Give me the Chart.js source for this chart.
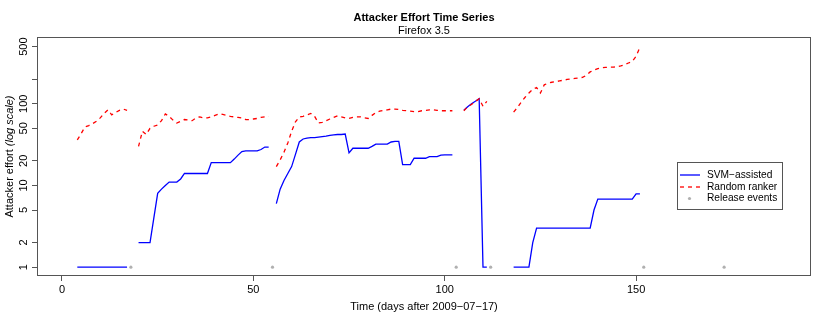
<!DOCTYPE html>
<html><head><meta charset="utf-8">
<script src="https://cdn.jsdelivr.net/npm/chart.js@4.4.0/dist/chart.umd.min.js"></script>
<style>html,body{margin:0;padding:0;background:#fff;}canvas{display:block;}</style>
</head><body>
<canvas id="c" width="830" height="323"></canvas>
<script>
// Day index (days after 2009-07-17); null values break the lines
const days = [4,5,6,7,8,9,10,11,12,13,14,15,16,17,18,19,
  20,21,22,23,24,25,26,27,28,29,30,31,32,33,34,35,36,37,38,39,40,41,42,43,44,45,46,47,48,49,50,51,52,53,54,55,
  56,57,58,59,60,61,62,63,64,65,66,67,68,69,70,71,72,73,74,75,76,77,78,79,80,81,82,83,84,85,86,87,88,89,90,91,92,93,94,95,96,97,98,99,100,101,102,103,104,
  105,106,107,108,109,110,111,112,113,114,115,116,117,
  118,119,120,121,122,123,124,125,126,127,128,129,130,131,132,133,134,135,136,137,138,139,140,141,142,143,144,145,146,147,148,149,150,151];

const svmAssisted = [1,1,1,1,1,1,1,1,1,1,1,1,1,1,null,null,
  2,2,2,2,4,8,9,10,11,11,11,12,14,14,14,14,14,14,14,19,19,19,19,19,19,21,23.5,26,26.5,26.5,26.5,26.5,27.5,29.5,29.5,null,
  6,9,11.5,14,17,24,34,37,38,38.5,38.5,39,39.5,40,41,41.6,42,42,42.5,25,28.5,28.5,28.5,28.5,28.5,30,32,32,32,32,34,34.5,34.5,18,18,18,21.5,21.5,21.5,21.5,22.5,22.5,22.5,23.5,23.7,23.7,23.7,null,null,
  83,92,100,107,115,1,1,null,null,null,null,null,null,
  1,1,1,1,1,2,3,3,3,3,3,3,3,3,3,3,3,3,3,3,3,5,6.8,6.8,6.8,6.8,6.8,6.8,6.8,6.8,6.8,6.8,7.9,7.9];

const randomRanker = [36,43,52,54,57,61,67,76,84,73,78,83,86,83,null,null,
  30,46,42,50,53,55,62,75,70,63,58,61,64,63,62,67,69,67,67,69,72,75,74,72,70,69,68,67,64,64,65,66,68,69,70,null,
  17,20.5,25.5,33,46,60,69,70,73,76,70,58,59,62,65,68,71,69,67,66,68,69,69,67,66,72,78,81,83,84,86,86,85,83,82,81,80,80,82,83,84,84,83,82,82,82,82,null,null,
  82,92,98,106,115,93,107,null,null,null,null,null,null,
  79,90,105,120,135,150,158,135,170,178,183,186,190,194,198,201,204,207,210,222,245,258,268,276,278,280,281,282,290,300,315,330,380,490];

const releaseDays = [18,55,103,112,152,173];

const xTicks = [0,50,100,150];
const yTicks = [1,2,5,10,20,50,100,200,500];
const yTickLabels = {1:'1',2:'2',5:'5',10:'10',20:'20',50:'50',100:'100',200:'',500:'500'};

const FONT = "'Liberation Sans', Arial, Helvetica, sans-serif";
Chart.defaults.font.family = FONT;
Chart.defaults.font.size = 11;
Chart.defaults.color = '#000';

const svmPts = days.map((d,i)=>({x:d, y:svmAssisted[i]}));
const rndPts = days.map((d,i)=>({x:d, y:randomRanker[i]}));
const relPts = releaseDays.map(d=>({x:d, y:1}));

const decor = {
  id:'decor',
  afterDraw(chart){
    const ctx = chart.ctx, a = chart.chartArea;
    ctx.save();
    // plot box
    ctx.strokeStyle = '#555'; ctx.lineWidth = 1;
    const L = Math.round(a.left), T = Math.round(a.top), R = Math.round(a.right), B = Math.round(a.bottom);
    ctx.strokeRect(L+0.5, T+0.5, R-L-1, B-T-1);
    const cx = (a.left + a.right)/2;
    ctx.fillStyle = '#000';
    ctx.textAlign = 'center'; ctx.textBaseline = 'middle';
    ctx.font = 'bold 11px ' + FONT;
    ctx.fillText('Attacker Effort Time Series', cx, 18);
    ctx.font = '11px ' + FONT;
    ctx.fillText('Firefox 3.5', cx, 31);
    ctx.fillText('Time (days after 2009\u221207\u221217)', cx, 307);
    // y title
    ctx.save();
    ctx.translate(10, (a.top + a.bottom)/2);
    ctx.rotate(-Math.PI/2);
    const p1 = 'Attacker effort ', p2 = '(log scale)';
    ctx.font = '11px ' + FONT; const w1 = ctx.measureText(p1).width;
    ctx.font = 'italic 11px ' + FONT; const w2 = ctx.measureText(p2).width;
    const sx = -(w1 + w2)/2;
    ctx.textAlign = 'left';
    ctx.font = '11px ' + FONT; ctx.fillText(p1, sx, 0);
    ctx.font = 'italic 11px ' + FONT; ctx.fillText(p2, sx + w1, 0);
    ctx.restore();
    // legend
    ctx.fillStyle = '#fff';
    ctx.fillRect(677.5, 162.5, 105, 47);
    ctx.strokeStyle = '#555'; ctx.lineWidth = 1;
    ctx.strokeRect(677.5, 162.5, 105, 47);
    const rows = [175, 187, 198.5];
    ctx.lineWidth = 1.3;
    ctx.strokeStyle = '#0000ff'; ctx.setLineDash([]);
    ctx.beginPath(); ctx.moveTo(680, rows[0]); ctx.lineTo(700, rows[0]); ctx.stroke();
    ctx.strokeStyle = '#ff0000'; ctx.setLineDash([4,4]);
    ctx.beginPath(); ctx.moveTo(680, rows[1]); ctx.lineTo(700, rows[1]); ctx.stroke();
    ctx.setLineDash([]);
    ctx.fillStyle = '#b0b0b0';
    ctx.beginPath(); ctx.arc(689.5, rows[2], 1.6, 0, Math.PI*2); ctx.fill();
    ctx.fillStyle = '#000'; ctx.textAlign = 'left'; ctx.textBaseline = 'middle';
    ctx.font = '10.2px ' + FONT;
    ctx.fillText('SVM\u2212assisted', 707, rows[0]);
    ctx.fillText('Random ranker', 707, rows[1]);
    ctx.fillText('Release events', 707, rows[2]);
    ctx.restore();
  }
};

new Chart(document.getElementById('c'), {
  type:'line',
  data:{ datasets:[
    {label:'SVM\u2212assisted', data:svmPts, borderColor:'#0000ff', borderWidth:1.3, pointRadius:0, spanGaps:false, tension:0, order:2},
    {label:'Random ranker', data:rndPts, borderColor:'#ff0000', borderWidth:1.3, borderDash:[4,4], pointRadius:0, spanGaps:false, tension:0, order:1},
    {label:'Release events', type:'scatter', data:relPts, showLine:false, pointRadius:1.6, pointBackgroundColor:'#b0b0b0', pointBorderWidth:0, order:0}
  ]},
  options:{
    responsive:false, animation:false, devicePixelRatio:1,
    layout:{ padding:{left:0, top:37, right:19, bottom:0}, autoPadding:false },
    plugins:{ legend:{display:false}, title:{display:false}, tooltip:{enabled:false} },
    scales:{
      x:{ type:'linear', min:-6.53, max:195.7,
        afterBuildTicks(s){ s.ticks = xTicks.map(v=>({value:v})); },
        afterFit(s){ s.height = 47; },
        grid:{ drawOnChartArea:false, drawTicks:true, tickLength:5, color:'#555', lineWidth:1 },
        border:{ display:false },
        ticks:{ padding:2, maxRotation:0, autoSkip:false, callback:v=>String(v) }
      },
      y:{ type:'logarithmic', min:0.779, max:655,
        afterBuildTicks(s){ s.ticks = yTicks.map(v=>({value:v})); },
        afterFit(s){ s.width = 37; },
        grid:{ drawOnChartArea:false, drawTicks:true, tickLength:5, color:'#555', lineWidth:1 },
        border:{ display:false },
        ticks:{ padding:-1, minRotation:90, maxRotation:90, crossAlign:'center', autoSkip:false, callback:v=>yTickLabels[v] !== undefined ? yTickLabels[v] : '' }
      }
    }
  },
  plugins:[decor]
});
</script>
</body></html>
